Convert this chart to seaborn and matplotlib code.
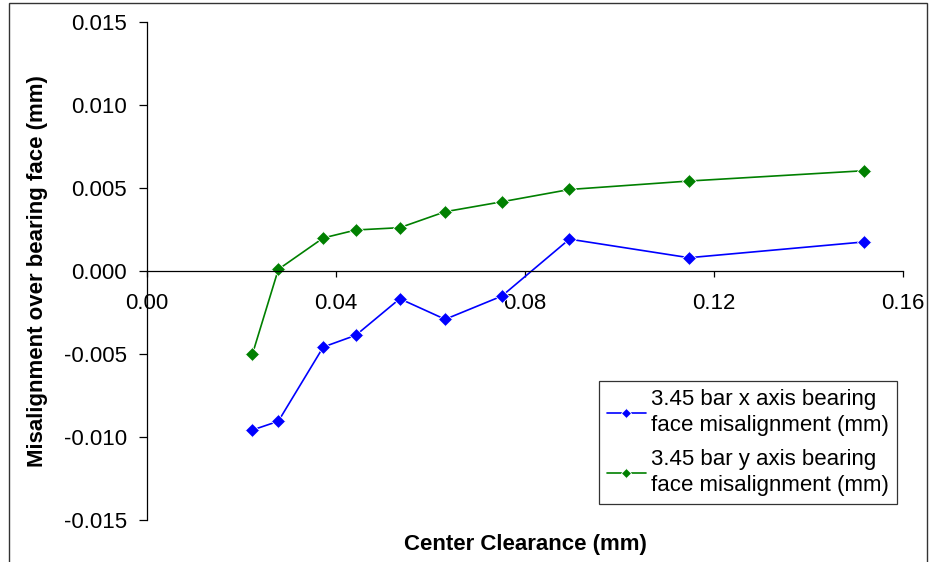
import pandas as pd
import matplotlib
matplotlib.use("Agg")
import matplotlib.pyplot as plt
from matplotlib.patches import Rectangle
from matplotlib.ticker import FormatStrFormatter
import seaborn as sns

# center clearance (mm) and bearing face misalignment (mm)
clearance = [0.0223, 0.0278, 0.0373, 0.0442, 0.0535, 0.0631, 0.0751, 0.0894, 0.1147, 0.1517]
x_misalign = [-0.00958, -0.00905, -0.00458, -0.00387, -0.00167, -0.00291, -0.00151, 0.00192, 0.00080, 0.00175]
y_misalign = [-0.00502, 0.00010, 0.00199, 0.00247, 0.00261, 0.00357, 0.00417, 0.00491, 0.00542, 0.00604]

x_label = '3.45 bar x axis bearing\nface misalignment (mm)'
y_label = '3.45 bar y axis bearing\nface misalignment (mm)'

x_ticks = [0.0, 0.04, 0.08, 0.12, 0.16]
y_ticks = [-0.015, -0.010, -0.005, 0.0, 0.005, 0.010, 0.015]

df = pd.DataFrame({'clearance': clearance, 'x': x_misalign, 'y': y_misalign})

sns.set_style('white')
plt.rcParams['font.family'] = ['Liberation Sans', 'DejaVu Sans']
plt.rcParams['axes.unicode_minus'] = False
plt.rcParams['text.color'] = 'black'
plt.rcParams['axes.labelcolor'] = 'black'

fig = plt.figure(figsize=(9.3, 5.62), dpi=100)
ax = fig.add_axes([147 / 930, 1 - 520 / 562, 756 / 930, 498 / 562])

sns.lineplot(data=df, x='clearance', y='x', color='#0000FF', marker='D', markersize=7,
             markeredgewidth=0.6, linewidth=1.2, label=x_label, ax=ax)
sns.lineplot(data=df, x='clearance', y='y', color='#008000', marker='D', markersize=7,
             markeredgewidth=0.6, linewidth=1.2, label=y_label, ax=ax)

ax.set_xlim(0, 0.16)
ax.set_ylim(-0.015, 0.015)
ax.set_xticks(x_ticks)
ax.set_yticks(y_ticks)
ax.xaxis.set_major_formatter(FormatStrFormatter('%.2f'))
ax.yaxis.set_major_formatter(FormatStrFormatter('%.3f'))

# Excel style axes: x axis crossing at y = 0
ax.spines['top'].set_visible(False)
ax.spines['right'].set_visible(False)
ax.spines['bottom'].set_position(('data', 0))
for sp in ['left', 'bottom']:
    ax.spines[sp].set_color('#000000')
    ax.spines[sp].set_linewidth(0.9)

ax.tick_params(axis='x', bottom=True, direction='out', length=4, width=0.9, pad=11.5,
               labelsize=16, colors='black')
ax.tick_params(axis='y', left=True, direction='out', length=5.8, width=0.9, pad=8.5,
               labelsize=16, colors='black')

ax.set_xlabel('Center Clearance (mm)', fontsize=16, fontweight='bold')
ax.set_ylabel('Misalignment over bearing face (mm)', fontsize=16, fontweight='bold')
ax.xaxis.set_label_coords(0.5, -0.028)
ax.yaxis.set_label_coords(-0.131, 0.5)

leg = ax.legend(loc='upper right', bbox_to_anchor=(0.992, 0.279), borderaxespad=0,
                fontsize=16, frameon=True, fancybox=False, edgecolor='black',
                handlelength=1.75, handletextpad=0.25, labelspacing=0.55,
                borderpad=0.35, markerscale=0.8)
leg.get_frame().set_linewidth(0.9)
for t in leg.get_texts():
    t.set_linespacing(1.35)

# outer chart border
fig.add_artist(Rectangle((9 / 930, -0.01), (927 - 9) / 930, 1 - 3 / 562 + 0.01,
                         transform=fig.transFigure, fill=False, edgecolor='#333333',
                         linewidth=1.0, clip_on=False))

fig.savefig('out.png', dpi=100)
